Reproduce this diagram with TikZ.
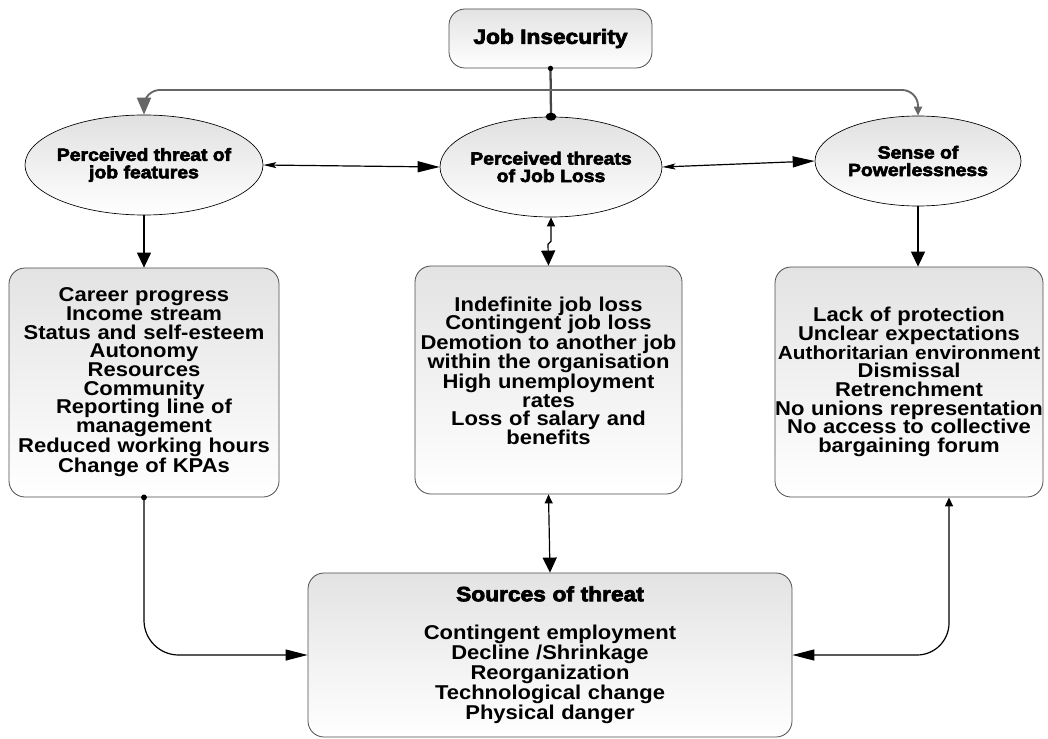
\documentclass[tikz,border=0pt]{standalone}
\usepackage{fontspec}
\newfontfamily\bodyfont{Liberation Sans Bold}[FakeStretch=1.1]
\newfontfamily\headfont{Liberation Sans Bold}[FakeStretch=1.1,FakeBold=3.5]
\usetikzlibrary{shapes.geometric,arrows.meta,calc}

\tikzset{
  bigV/.tip={Triangle[length=11.25pt,width=10.5pt]},
  bigH/.tip={Triangle[length=16.5pt,width=8.25pt]},
  topL/.tip={Triangle[length=12.75pt,width=10.5pt]},
  smallV/.tip={Triangle[length=6.75pt,width=6pt]},
  smallH/.tip={Stealth[length=9.75pt,width=4.5pt,inset=2pt]},
}

\begin{document}
\begin{tikzpicture}[x=0.75pt,y=-0.75pt,
  box/.style={draw=black!70, line width=0.6pt, rounded corners=12pt,
    top color=black!11, bottom color=white, align=center, inner sep=0pt,
    font=\bodyfont\fontsize{15}{14}\selectfont},
  oval/.style={ellipse, draw=black, line width=0.5pt,
    top color=black!12, bottom color=white, align=center, inner sep=0pt,
    font=\headfont\fontsize{13.2}{13.1}\selectfont},
  conn/.style={line width=0.9pt, black},
  trunk/.style={line width=1.7pt, black!72},
  branch/.style={line width=1.4pt, black!60},
]
\useasboundingbox (0,0) rectangle (1048,738);

% top box
\node[box, minimum width=152.25pt, minimum height=44.25pt,
      font=\headfont\fontsize{15.5}{14}\selectfont] (ji) at (550.5,38.5) {Job Insecurity};

% three perceptions
\node[oval, minimum width=178.5pt, minimum height=75pt] (e1) at (144,165)
  {\makebox[0pt]{Perceived threat of}\\\makebox[0pt]{job features}};
\node[oval, minimum width=166.5pt, minimum height=75pt] (e2) at (551,167)
  {\makebox[0pt]{Perceived threats}\\\makebox[0pt]{of Job Loss}};
\node[oval, minimum width=154.5pt, minimum height=67.5pt] (e3) at (918,161)
  {\makebox[0pt]{Sense of}\\\makebox[0pt]{Powerlessness}};

% detail boxes
\node[box, minimum width=202.5pt, minimum height=171.75pt, text width=202.5pt] (b1) at (144,382.5)
  {Career progress\\Income stream\\Status and self-esteem\\Autonomy\\Resources\\Community\\Reporting line of\\management\\Reduced working hours\\Change of KPAs};
\node[box, minimum width=200.25pt, minimum height=171pt, text width=200.25pt] (b2) at (548.5,380)
  {Indefinite job loss\\Contingent job loss\\Demotion to another job\\within the organisation\\High unemployment\\rates\\Loss of salary and\\benefits\\\mbox{}};
\node[box, minimum width=201pt, minimum height=172.5pt, text width=201pt] (b3) at (909,382)
  {Lack of protection\\Unclear expectations\\\mbox{\fontsize{14.2}{14}\selectfont Authoritarian environment}\\Dismissal\\Retrenchment\\No unions representation\\No access to collective\\bargaining forum};

% sources box
\node[box, minimum width=363pt, minimum height=123pt, text width=363pt] (b4) at (550,655)
  {{\headfont\fontsize{15.5}{14}\selectfont Sources of threat}\\[14.5pt]
   Contingent employment\\Decline /Shrinkage\\Reorganization\\Technological change\\Physical danger};

% connectors from the top box
\coordinate (hub) at (551,90);
\draw[trunk] (ji.south) -- (e2.north);
\fill[black] (ji.south) circle[radius=2pt];
\fill[black] (e2.north) ellipse[x radius=4pt, y radius=3pt];
\draw[branch, rounded corners=12pt, -{topL}] (hub) -| (e1.north);
\draw[branch, rounded corners=12pt, -{smallV}] (hub) -| (e3.north);

% links between the perceptions
\draw[conn, {smallH}-{bigH}] (e1.east) -- (e2.west);
\draw[conn, {smallH}-{bigH}] (e2.east) -- (e3.west);

% perceptions to detail boxes
\draw[conn, -{bigV}] (e1.south) -- (b1.north);
\draw[conn, -{bigV}] (e3.south) -- (e3.south |- b3.north);
\draw[conn, {smallV}-{bigV}] (e2.south) -- ++(0,24) -- ++(-3,3) -- (b2.north);

% detail boxes to sources
\draw[conn, {smallV}-{bigV}] (b2.south) -- (b4.north);
\draw[conn, rounded corners=26pt, -{bigH}] (b1.south) |- (b4.west);
\fill[black] (b1.south) circle[radius=2.2pt];
\draw[conn, rounded corners=24pt, {smallV}-{bigH}] ($(b3.south)+(40,0)$) |- (b4.east);
\end{tikzpicture}
\end{document}
